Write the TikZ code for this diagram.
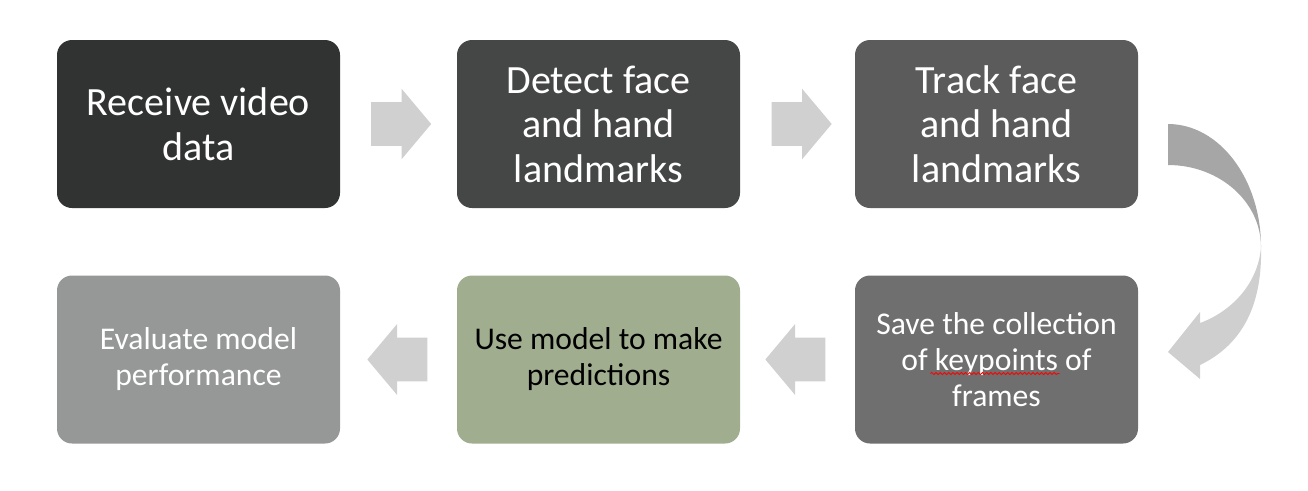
\documentclass[tikz,border=0pt]{standalone}
\usepackage{fontspec}
\setmainfont{Carlito}
\usetikzlibrary{shapes.arrows,calc,decorations.pathmorphing}

\definecolor{boxA}{RGB}{49,51,50}
\definecolor{boxB}{RGB}{69,70,70}
\definecolor{boxC}{RGB}{90,91,90}
\definecolor{boxD}{RGB}{110,111,110}
\definecolor{boxE}{RGB}{160,173,142}
\definecolor{boxF}{RGB}{150,151,151}
\definecolor{arrowgray}{RGB}{208,208,208}
\definecolor{benddark}{RGB}{166,166,166}
\definecolor{bendlight}{RGB}{208,207,208}

\begin{document}
\begin{tikzpicture}[node distance=8cm]

  % Definitions
  \tikzstyle{stepbox} = [rectangle, rounded corners=0.3cm, minimum width=5.66cm, minimum height=3.36cm, text width=5.4cm, align=flush center, text=white, inner sep=0pt]
  \tikzstyle{big} = [font=\fontsize{22.8}{25.3}\selectfont]
  \tikzstyle{small} = [font=\fontsize{18}{20.5}\selectfont]
  \tikzstyle{blockarrow} = [single arrow, fill=arrowgray, minimum height=1.2cm, minimum width=1.4cm, single arrow head extend=0.27cm, single arrow head indent=0pt, single arrow tip angle=100, inner xsep=0pt, inner ysep=0.43cm]

  \useasboundingbox (0,0) rectangle (26.16,-9.8);

  \node (recv) [stepbox, big, fill=boxA] at (3.97,-2.48) {Receive video\\data};
  \node (detect) [stepbox, big, fill=boxB, right of=recv] {Detect face\\and hand\\landmarks};
  \node (track) [stepbox, big, fill=boxC, right of=detect, xshift=-0.04cm] {Track face\\and hand\\landmarks};
  \node (save) [stepbox, small, fill=boxD, node distance=4.71cm, below of=track] {Save the collection\\of keypoints of\\frames};
  \node (predict) [stepbox, small, fill=boxE, text=black, left of=save, xshift=0.04cm] {Use model to make\\predictions};
  \node (eval) [stepbox, small, fill=boxF, left of=predict] {Evaluate model\\performance};

  % block arrows
  \node (a1) [blockarrow, xshift=-0.13cm] at ($(recv)!0.5!(detect)$) {};
  \node (a2) [blockarrow, xshift=-0.1cm] at ($(detect)!0.5!(track)$) {};
  \node (a3) [blockarrow, shape border rotate=180, xshift=0.14cm] at ($(save)!0.5!(predict)$) {};
  \node (a4) [blockarrow, shape border rotate=180, xshift=0.16cm] at ($(predict)!0.5!(eval)$) {};

  % curved arrow
  \fill [benddark] (23.36,-2.48) arc[start angle=90, end angle=0, x radius=1.86cm, y radius=2.46cm]
    arc[start angle=0, end angle=90, x radius=1.86cm, y radius=1.64cm] -- cycle;
  \fill [bendlight] (25.22,-4.94) .. controls (25.24,-5.8) and (25.04,-6.8) .. (24.0,-7.30)
    -- (24.0,-7.58) -- (23.36,-7.04) -- (24.0,-6.24) -- (24.0,-6.46)
    .. controls (24.6,-6.24) and (25.16,-5.7) .. (25.22,-4.94) -- cycle;

  % spell check mark
  \draw [red, line width=0.5pt, decorate, decoration={snake, segment length=2.4pt, amplitude=0.6pt}]
    ($(save.center)+(-1.32,-0.28)$) -- ($(save.center)+(1.26,-0.28)$);

\end{tikzpicture}
\end{document}
